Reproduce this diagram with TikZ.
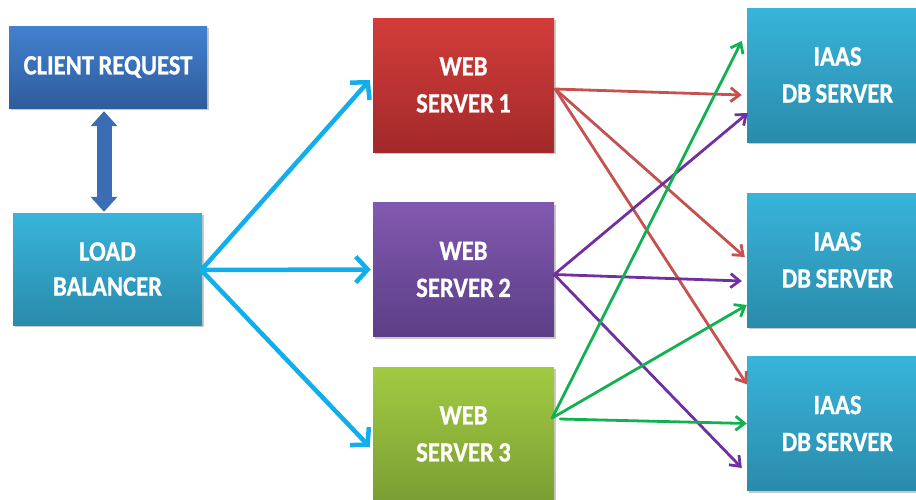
\documentclass[tikz,border=0pt]{standalone}
\usepackage{fontspec}
\setmainfont{Carlito}[FakeStretch=0.88, WordSpace=0.8, BoldFeatures={FakeBold=0.7}]
\usetikzlibrary{arrows.meta,calc,shadows}
\definecolor{crtop}{HTML}{4281D0}
\definecolor{crbot}{HTML}{2F5C9C}
\definecolor{cytop}{HTML}{38B4DA}
\definecolor{cybot}{HTML}{2A8BAB}
\definecolor{rdtop}{HTML}{D23D3A}
\definecolor{rdbot}{HTML}{A3292A}
\definecolor{putop}{HTML}{8259B0}
\definecolor{pubot}{HTML}{5C3E86}
\definecolor{grtop}{HTML}{A2CB42}
\definecolor{grbot}{HTML}{7B9E33}
\definecolor{blueln}{HTML}{12AEEB}
\definecolor{redln}{HTML}{C55250}
\definecolor{purln}{HTML}{7030A0}
\definecolor{grnln}{HTML}{11B050}
\definecolor{dblarr}{HTML}{3A6DB4}
\begin{document}
\begin{tikzpicture}[x=1pt,y=-1pt,
  box/.style={rectangle, inner sep=0pt, text=white, align=center,
    font=\bfseries\fontsize{28}{37}\selectfont,
    drop shadow={shadow xshift=1.5pt, shadow yshift=-2pt, opacity=0.3, fill=black!70}},
  crbox/.style={box, top color=crtop, bottom color=crbot, minimum width=198pt, minimum height=82pt},
  cybox/.style={box, top color=cytop, bottom color=cybot},
  wsbox/.style={box, minimum width=181pt, minimum height=134pt},
  dbbox/.style={cybox, minimum width=181pt, minimum height=134pt},
  bluearr/.style={draw=blueln, line width=4.5pt, line cap=round,
    -{Straight Barb[length=12pt, width=26pt, line width=4.5pt]}},
  colarr/.style={line width=2.8pt, line cap=round,
    -{Straight Barb[length=9pt, width=14pt, line width=2.8pt]}}
]
\useasboundingbox (0,0) rectangle (916,499);
\clip (0,0) rectangle (916,499);

\node[crbox] (cr) at (108,67) {CLIENT REQUEST};
\node[cybox, minimum width=189pt, minimum height=112pt] (lb) at (107.5,269) {LOAD\\[-2pt]BALANCER};

\node[wsbox, top color=rdtop, bottom color=rdbot] (ws1) at (463.5,85) {WEB\\SERVER 1};
\node[wsbox, top color=putop, bottom color=pubot] (ws2) at (463.5,269.5) {WEB\\SERVER 2};
\node[wsbox, top color=grtop, bottom color=grbot] (ws3) at (463.5,434) {WEB\\SERVER 3};

\node[dbbox] (db1) at (837.5,75) {IAAS\\DB SERVER};
\node[dbbox] (db2) at (837.5,260) {IAAS\\DB SERVER};
\node[dbbox] (db3) at (837.5,423.5) {IAAS\\DB SERVER};

% double block arrow
\draw[draw=dblarr, line width=15pt,
  {Triangle[length=15pt, width=26pt]}-{Triangle[length=15pt, width=26pt]}]
  ($(cr.south)+(-4,3)$) -- ($(lb.north)+(-3.5,-1)$);

% load balancer to web servers
\coordinate (lbo) at ($(lb.east)+(-1,1)$);
\draw[bluearr] (lbo) -- ($(ws1.west)+(-3,-5)$);
\draw[bluearr] (lbo) -- ($(ws2.west)+(-2,0)$);
\draw[bluearr] (lbo) -- ($(ws3.west)+(-3,13)$);

% web server 1 (red)
\coordinate (r0) at ($(ws1.east)+(1,4)$);
\draw[colarr, draw=redln] (r0) -- ($(db1.west)+(-5,20)$);
\draw[colarr, draw=redln] (r0) -- ($(db2.west)+(-2,-3)$);
\draw[colarr, draw=redln] (r0) -- ($(db3.north west)+(0,28)$);

% web server 2 (purple)
\coordinate (p0) at ($(ws2.east)+(0,5)$);
\draw[colarr, draw=purln] (p0) -- ($(db1.west)+(1,38)$);
\draw[colarr, draw=purln] (p0) -- ($(db2.west)+(-5,21)$);
\draw[colarr, draw=purln] (p0) -- ($(db3.west)+(-5,44.5)$);

% web server 3 (green)
\coordinate (g0) at ($(ws3.east)+(-2,-16)$);
\draw[colarr, draw=grnln] (g0) -- ($(db1.west)+(-5,-34)$);
\draw[colarr, draw=grnln] (g0) -- ($(db2.west)+(0,45)$);
\draw[colarr, draw=grnln] ($(g0)+(8,1)$) -- ($(db3.west)+(0,0)$);
\end{tikzpicture}
\end{document}
